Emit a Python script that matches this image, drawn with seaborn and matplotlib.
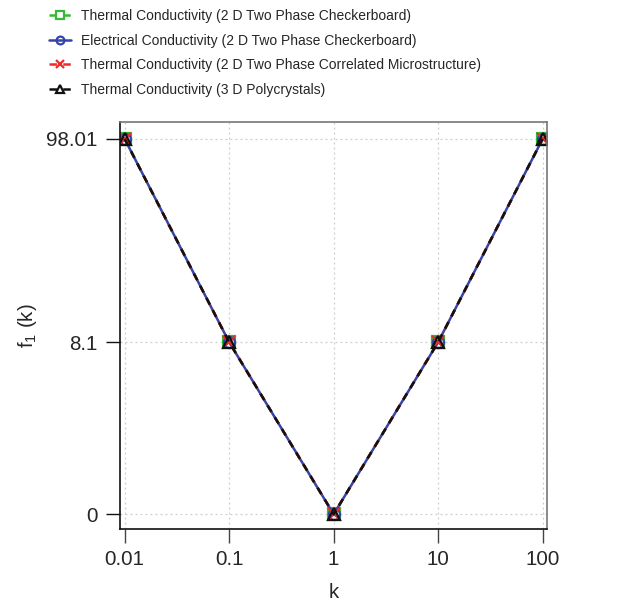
import numpy as np
import pandas as pd
import matplotlib
matplotlib.use("Agg")
import matplotlib.pyplot as plt
import seaborn as sns

# ---- data ----
k_values = [0.01, 0.1, 1, 10, 100]
thermal_checkerboard = [98.01, 8.1, 0, 8.1, 98.01]
electrical_checkerboard = [98.01, 8.1, 0, 8.1, 98.01]
thermal_correlated = [98.01, 8.1, 0, 8.1, 98.01]
thermal_polycrystals = [98.01, 8.1, 0, 8.1, 98.01]
series_names = [
    "Thermal Conductivity (2 D Two Phase Checkerboard)",
    "Electrical Conductivity (2 D Two Phase Checkerboard)",
    "Thermal Conductivity (2 D Two Phase Correlated Microstructure)",
    "Thermal Conductivity (3 D Polycrystals)",
]
x_ticks = [0.01, 0.1, 1, 10, 100]
x_tick_labels = ["0.01", "0.1", "1", "10", "100"]
y_ticks = [0, 8.1, 98.01]
y_tick_labels = ["0", "8.1", "98.01"]

sns.set_theme(style="white")
plt.rcParams["font.family"] = ["Liberation Sans", "DejaVu Sans"]
plt.rcParams["mathtext.fontset"] = "custom"
plt.rcParams["mathtext.rm"] = "Liberation Sans"
plt.rcParams["mathtext.it"] = "Liberation Sans"

fig = plt.figure(figsize=(6.27, 6.06), dpi=100)
ax = fig.add_axes([0.1914, 0.1266, 0.6815, 0.6721])

# y transform (compressed scale)
C = 1.27
def fwd(y):
    return np.log1p(np.asarray(y, dtype=float) / C)
def inv(t):
    return C * np.expm1(np.asarray(t, dtype=float))

ax.set_xscale("log")
ax.set_yscale("function", functions=(fwd, inv))

styles = [
    dict(color="#33bb33", marker="s", linestyle=(0, (3, 2.5))),
    dict(color="#3344aa", marker="o", linestyle="-"),
    dict(color="#ee2a2a", marker="x", linestyle=(0, (3, 2.5))),
    dict(color="#111111", marker="^", linestyle=(0, (3, 2.5))),
]
all_series = [thermal_checkerboard, electrical_checkerboard,
              thermal_correlated, thermal_polycrystals]
for name, vals, st in zip(series_names, all_series, styles):
    df = pd.DataFrame({"k": k_values, "f": vals})
    sns.lineplot(data=df, x="k", y="f", ax=ax, label=name,
                 color=st["color"], marker=st["marker"], linestyle=st["linestyle"],
                 linewidth=1.8, markersize=8, markeredgewidth=1.6,
                 fillstyle="none", markeredgecolor=st["color"])

ax.set_xlim(10 ** -2.045, 10 ** 2.045)
t0, t1 = fwd(0), fwd(98.01)
span = t1 - t0
ax.set_ylim(inv(t0 - span * 0.04), inv(t1 + span * 0.0453))

ax.set_xticks(x_ticks)
ax.set_xticklabels(x_tick_labels)
ax.xaxis.set_minor_locator(matplotlib.ticker.NullLocator())
ax.set_yticks(y_ticks)
ax.set_yticklabels(y_tick_labels)
ax.yaxis.set_minor_locator(matplotlib.ticker.NullLocator())

ax.tick_params(axis="x", which="major", direction="out", length=10, width=1,
               color="#444444", labelsize=14.8, pad=5, bottom=True)
ax.tick_params(axis="y", which="major", direction="out", length=10, width=1,
               color="#111111", labelsize=14.8, pad=6, left=True)

ax.grid(True, which="major", color="#cccccc", linestyle=(0, (1.5, 2.5)), linewidth=0.9)

for side in ["left", "bottom"]:
    ax.spines[side].set_color("#111111")
    ax.spines[side].set_linewidth(1.2)
for side in ["top", "right"]:
    ax.spines[side].set_color("#777777")
    ax.spines[side].set_linewidth(1.2)

ax.set_xlabel("k", fontsize=14.8, labelpad=10)
ax.set_ylabel("f$_1$ (k)", fontsize=14.8, labelpad=5)

handles, labels = ax.get_legend_handles_labels()
ax.get_legend().remove()
fig.legend(handles, labels, loc="upper left", bbox_to_anchor=(0.063, 1.0),
           frameon=False, fontsize=10.0, handlelength=1.6, handletextpad=0.75,
           labelspacing=0.76, borderaxespad=0.25, markerscale=0.7)

fig.savefig("out.png", dpi=100)
